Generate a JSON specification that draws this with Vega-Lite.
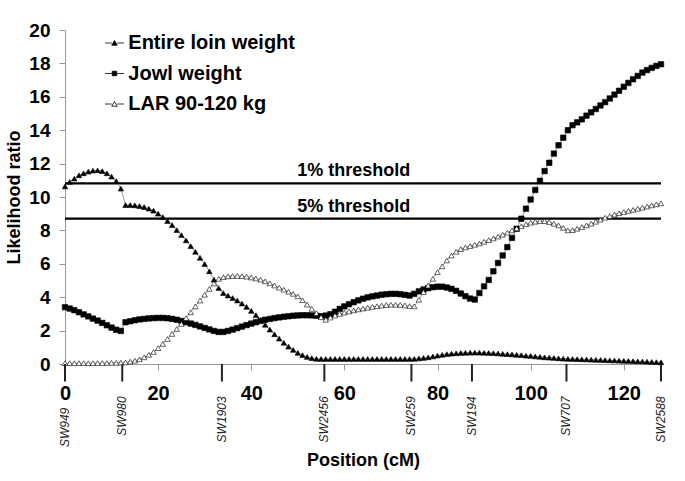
{
  "$schema": "https://vega.github.io/schema/vega-lite/v6.json",
  "width": 596,
  "height": 334,
  "autosize": {"type": "none"},
  "padding": {"left": 65, "top": 30, "right": 24, "bottom": 117},
  "background": "white",
  "datasets": {
    "thresholds": [
      {"label": "1% threshold", "LR": 10.82},
      {"label": "5% threshold", "LR": 8.7}
    ],
    "markers": [
      {"marker": "SW949", "cM": 0},
      {"marker": "SW980", "cM": 12.3},
      {"marker": "SW1903", "cM": 33.7},
      {"marker": "SW2456", "cM": 55.7},
      {"marker": "SW259", "cM": 74.4},
      {"marker": "SW194", "cM": 87.4},
      {"marker": "SW707", "cM": 107.7},
      {"marker": "SW2588", "cM": 128}
    ],
    "curves": [
      {"cM": 0, "Entire loin weight": 10.63, "Jowl weight": 3.4, "LAR 90-120 kg": 0.05},
      {"cM": 1, "Entire loin weight": 10.9, "Jowl weight": 3.32, "LAR 90-120 kg": 0.05},
      {"cM": 2, "Entire loin weight": 11.1, "Jowl weight": 3.22, "LAR 90-120 kg": 0.05},
      {"cM": 3, "Entire loin weight": 11.3, "Jowl weight": 3.1, "LAR 90-120 kg": 0.05},
      {"cM": 4, "Entire loin weight": 11.42, "Jowl weight": 2.97, "LAR 90-120 kg": 0.05},
      {"cM": 5, "Entire loin weight": 11.52, "Jowl weight": 2.85, "LAR 90-120 kg": 0.05},
      {"cM": 6, "Entire loin weight": 11.58, "Jowl weight": 2.72, "LAR 90-120 kg": 0.05},
      {"cM": 7, "Entire loin weight": 11.6, "Jowl weight": 2.6, "LAR 90-120 kg": 0.06},
      {"cM": 8, "Entire loin weight": 11.55, "Jowl weight": 2.46, "LAR 90-120 kg": 0.06},
      {"cM": 9, "Entire loin weight": 11.42, "Jowl weight": 2.32, "LAR 90-120 kg": 0.06},
      {"cM": 10, "Entire loin weight": 11.22, "Jowl weight": 2.18, "LAR 90-120 kg": 0.07},
      {"cM": 11, "Entire loin weight": 10.95, "Jowl weight": 2.05, "LAR 90-120 kg": 0.07},
      {"cM": 12, "Entire loin weight": 10.5, "Jowl weight": 1.98, "LAR 90-120 kg": 0.08},
      {"cM": 13, "Entire loin weight": 9.52, "Jowl weight": 2.5, "LAR 90-120 kg": 0.1},
      {"cM": 14, "Entire loin weight": 9.52, "Jowl weight": 2.56, "LAR 90-120 kg": 0.14},
      {"cM": 15, "Entire loin weight": 9.5, "Jowl weight": 2.62, "LAR 90-120 kg": 0.2},
      {"cM": 16, "Entire loin weight": 9.46, "Jowl weight": 2.67, "LAR 90-120 kg": 0.28},
      {"cM": 17, "Entire loin weight": 9.4, "Jowl weight": 2.7, "LAR 90-120 kg": 0.4},
      {"cM": 18, "Entire loin weight": 9.3, "Jowl weight": 2.73, "LAR 90-120 kg": 0.55},
      {"cM": 19, "Entire loin weight": 9.18, "Jowl weight": 2.75, "LAR 90-120 kg": 0.72},
      {"cM": 20, "Entire loin weight": 9.0, "Jowl weight": 2.76, "LAR 90-120 kg": 0.95},
      {"cM": 21, "Entire loin weight": 8.8, "Jowl weight": 2.76, "LAR 90-120 kg": 1.2},
      {"cM": 22, "Entire loin weight": 8.56, "Jowl weight": 2.74, "LAR 90-120 kg": 1.5},
      {"cM": 23, "Entire loin weight": 8.32, "Jowl weight": 2.7, "LAR 90-120 kg": 1.8},
      {"cM": 24, "Entire loin weight": 8.02, "Jowl weight": 2.65, "LAR 90-120 kg": 2.1},
      {"cM": 25, "Entire loin weight": 7.72, "Jowl weight": 2.58, "LAR 90-120 kg": 2.4},
      {"cM": 26, "Entire loin weight": 7.4, "Jowl weight": 2.5, "LAR 90-120 kg": 2.75},
      {"cM": 27, "Entire loin weight": 7.06, "Jowl weight": 2.42, "LAR 90-120 kg": 3.1},
      {"cM": 28, "Entire loin weight": 6.72, "Jowl weight": 2.34, "LAR 90-120 kg": 3.45},
      {"cM": 29, "Entire loin weight": 6.36, "Jowl weight": 2.25, "LAR 90-120 kg": 3.8},
      {"cM": 30, "Entire loin weight": 5.98, "Jowl weight": 2.16, "LAR 90-120 kg": 4.15},
      {"cM": 31, "Entire loin weight": 5.55, "Jowl weight": 2.07, "LAR 90-120 kg": 4.5},
      {"cM": 32, "Entire loin weight": 5.05, "Jowl weight": 1.98, "LAR 90-120 kg": 4.82},
      {"cM": 33, "Entire loin weight": 4.55, "Jowl weight": 1.92, "LAR 90-120 kg": 5.1},
      {"cM": 34, "Entire loin weight": 4.25, "Jowl weight": 1.92, "LAR 90-120 kg": 5.2},
      {"cM": 35, "Entire loin weight": 4.1, "Jowl weight": 1.98, "LAR 90-120 kg": 5.25},
      {"cM": 36, "Entire loin weight": 3.95, "Jowl weight": 2.06, "LAR 90-120 kg": 5.27},
      {"cM": 37, "Entire loin weight": 3.8, "Jowl weight": 2.15, "LAR 90-120 kg": 5.27},
      {"cM": 38, "Entire loin weight": 3.62, "Jowl weight": 2.24, "LAR 90-120 kg": 5.26},
      {"cM": 39, "Entire loin weight": 3.42, "Jowl weight": 2.33, "LAR 90-120 kg": 5.23},
      {"cM": 40, "Entire loin weight": 3.18, "Jowl weight": 2.42, "LAR 90-120 kg": 5.18},
      {"cM": 41, "Entire loin weight": 2.92, "Jowl weight": 2.5, "LAR 90-120 kg": 5.12},
      {"cM": 42, "Entire loin weight": 2.64, "Jowl weight": 2.58, "LAR 90-120 kg": 5.05},
      {"cM": 43, "Entire loin weight": 2.35, "Jowl weight": 2.65, "LAR 90-120 kg": 4.95},
      {"cM": 44, "Entire loin weight": 2.06, "Jowl weight": 2.7, "LAR 90-120 kg": 4.83},
      {"cM": 45, "Entire loin weight": 1.78, "Jowl weight": 2.75, "LAR 90-120 kg": 4.7},
      {"cM": 46, "Entire loin weight": 1.52, "Jowl weight": 2.79, "LAR 90-120 kg": 4.57},
      {"cM": 47, "Entire loin weight": 1.27, "Jowl weight": 2.83, "LAR 90-120 kg": 4.45},
      {"cM": 48, "Entire loin weight": 1.04, "Jowl weight": 2.86, "LAR 90-120 kg": 4.33},
      {"cM": 49, "Entire loin weight": 0.84, "Jowl weight": 2.89, "LAR 90-120 kg": 4.2},
      {"cM": 50, "Entire loin weight": 0.67, "Jowl weight": 2.91, "LAR 90-120 kg": 4.05},
      {"cM": 51, "Entire loin weight": 0.53, "Jowl weight": 2.92, "LAR 90-120 kg": 3.82},
      {"cM": 52, "Entire loin weight": 0.42, "Jowl weight": 2.92, "LAR 90-120 kg": 3.56},
      {"cM": 53, "Entire loin weight": 0.35, "Jowl weight": 2.91, "LAR 90-120 kg": 3.3},
      {"cM": 54, "Entire loin weight": 0.31, "Jowl weight": 2.89, "LAR 90-120 kg": 3.05},
      {"cM": 55, "Entire loin weight": 0.3, "Jowl weight": 2.86, "LAR 90-120 kg": 2.8},
      {"cM": 56, "Entire loin weight": 0.3, "Jowl weight": 2.9, "LAR 90-120 kg": 2.65},
      {"cM": 57, "Entire loin weight": 0.3, "Jowl weight": 2.98, "LAR 90-120 kg": 2.78},
      {"cM": 58, "Entire loin weight": 0.3, "Jowl weight": 3.13, "LAR 90-120 kg": 2.9},
      {"cM": 59, "Entire loin weight": 0.3, "Jowl weight": 3.3, "LAR 90-120 kg": 3.0},
      {"cM": 60, "Entire loin weight": 0.3, "Jowl weight": 3.45, "LAR 90-120 kg": 3.08},
      {"cM": 61, "Entire loin weight": 0.3, "Jowl weight": 3.58, "LAR 90-120 kg": 3.15},
      {"cM": 62, "Entire loin weight": 0.3, "Jowl weight": 3.7, "LAR 90-120 kg": 3.21},
      {"cM": 63, "Entire loin weight": 0.3, "Jowl weight": 3.81, "LAR 90-120 kg": 3.27},
      {"cM": 64, "Entire loin weight": 0.3, "Jowl weight": 3.91, "LAR 90-120 kg": 3.32},
      {"cM": 65, "Entire loin weight": 0.3, "Jowl weight": 3.99, "LAR 90-120 kg": 3.37},
      {"cM": 66, "Entire loin weight": 0.3, "Jowl weight": 4.05, "LAR 90-120 kg": 3.42},
      {"cM": 67, "Entire loin weight": 0.3, "Jowl weight": 4.1, "LAR 90-120 kg": 3.46},
      {"cM": 68, "Entire loin weight": 0.3, "Jowl weight": 4.15, "LAR 90-120 kg": 3.5},
      {"cM": 69, "Entire loin weight": 0.3, "Jowl weight": 4.18, "LAR 90-120 kg": 3.53},
      {"cM": 70, "Entire loin weight": 0.3, "Jowl weight": 4.2, "LAR 90-120 kg": 3.55},
      {"cM": 71, "Entire loin weight": 0.3, "Jowl weight": 4.2, "LAR 90-120 kg": 3.55},
      {"cM": 72, "Entire loin weight": 0.3, "Jowl weight": 4.18, "LAR 90-120 kg": 3.54},
      {"cM": 73, "Entire loin weight": 0.3, "Jowl weight": 4.14, "LAR 90-120 kg": 3.51},
      {"cM": 74, "Entire loin weight": 0.3, "Jowl weight": 4.1, "LAR 90-120 kg": 3.47},
      {"cM": 75, "Entire loin weight": 0.31, "Jowl weight": 4.2, "LAR 90-120 kg": 3.45},
      {"cM": 76, "Entire loin weight": 0.33, "Jowl weight": 4.35, "LAR 90-120 kg": 3.85},
      {"cM": 77, "Entire loin weight": 0.36, "Jowl weight": 4.46, "LAR 90-120 kg": 4.3},
      {"cM": 78, "Entire loin weight": 0.4, "Jowl weight": 4.54, "LAR 90-120 kg": 4.7},
      {"cM": 79, "Entire loin weight": 0.45, "Jowl weight": 4.6, "LAR 90-120 kg": 5.1},
      {"cM": 80, "Entire loin weight": 0.5, "Jowl weight": 4.63, "LAR 90-120 kg": 5.5},
      {"cM": 81, "Entire loin weight": 0.55, "Jowl weight": 4.63, "LAR 90-120 kg": 5.85},
      {"cM": 82, "Entire loin weight": 0.59, "Jowl weight": 4.58, "LAR 90-120 kg": 6.2},
      {"cM": 83, "Entire loin weight": 0.62, "Jowl weight": 4.5, "LAR 90-120 kg": 6.5},
      {"cM": 84, "Entire loin weight": 0.64, "Jowl weight": 4.38, "LAR 90-120 kg": 6.72},
      {"cM": 85, "Entire loin weight": 0.66, "Jowl weight": 4.22, "LAR 90-120 kg": 6.88},
      {"cM": 86, "Entire loin weight": 0.67, "Jowl weight": 4.06, "LAR 90-120 kg": 6.98},
      {"cM": 87, "Entire loin weight": 0.68, "Jowl weight": 3.92, "LAR 90-120 kg": 7.06},
      {"cM": 88, "Entire loin weight": 0.68, "Jowl weight": 3.86, "LAR 90-120 kg": 7.14},
      {"cM": 89, "Entire loin weight": 0.68, "Jowl weight": 4.25, "LAR 90-120 kg": 7.22},
      {"cM": 90, "Entire loin weight": 0.67, "Jowl weight": 4.65, "LAR 90-120 kg": 7.32},
      {"cM": 91, "Entire loin weight": 0.66, "Jowl weight": 5.03, "LAR 90-120 kg": 7.42},
      {"cM": 92, "Entire loin weight": 0.65, "Jowl weight": 5.55, "LAR 90-120 kg": 7.52},
      {"cM": 93, "Entire loin weight": 0.63, "Jowl weight": 6.05, "LAR 90-120 kg": 7.63},
      {"cM": 94, "Entire loin weight": 0.61, "Jowl weight": 6.5, "LAR 90-120 kg": 7.74},
      {"cM": 95, "Entire loin weight": 0.59, "Jowl weight": 7.0, "LAR 90-120 kg": 7.87},
      {"cM": 96, "Entire loin weight": 0.57, "Jowl weight": 7.55, "LAR 90-120 kg": 8.0},
      {"cM": 97, "Entire loin weight": 0.55, "Jowl weight": 8.1, "LAR 90-120 kg": 8.12},
      {"cM": 98, "Entire loin weight": 0.53, "Jowl weight": 8.7, "LAR 90-120 kg": 8.25},
      {"cM": 99, "Entire loin weight": 0.5, "Jowl weight": 9.3, "LAR 90-120 kg": 8.37},
      {"cM": 100, "Entire loin weight": 0.48, "Jowl weight": 9.85, "LAR 90-120 kg": 8.46},
      {"cM": 101, "Entire loin weight": 0.45, "Jowl weight": 10.42, "LAR 90-120 kg": 8.52},
      {"cM": 102, "Entire loin weight": 0.43, "Jowl weight": 10.97, "LAR 90-120 kg": 8.56},
      {"cM": 103, "Entire loin weight": 0.4, "Jowl weight": 11.55, "LAR 90-120 kg": 8.56},
      {"cM": 104, "Entire loin weight": 0.38, "Jowl weight": 12.05, "LAR 90-120 kg": 8.5},
      {"cM": 105, "Entire loin weight": 0.36, "Jowl weight": 12.6, "LAR 90-120 kg": 8.4},
      {"cM": 106, "Entire loin weight": 0.34, "Jowl weight": 13.1, "LAR 90-120 kg": 8.3},
      {"cM": 107, "Entire loin weight": 0.32, "Jowl weight": 13.55, "LAR 90-120 kg": 8.15},
      {"cM": 108, "Entire loin weight": 0.31, "Jowl weight": 14.0, "LAR 90-120 kg": 8.0},
      {"cM": 109, "Entire loin weight": 0.3, "Jowl weight": 14.3, "LAR 90-120 kg": 8.02},
      {"cM": 110, "Entire loin weight": 0.29, "Jowl weight": 14.47, "LAR 90-120 kg": 8.1},
      {"cM": 111, "Entire loin weight": 0.28, "Jowl weight": 14.65, "LAR 90-120 kg": 8.2},
      {"cM": 112, "Entire loin weight": 0.27, "Jowl weight": 14.87, "LAR 90-120 kg": 8.3},
      {"cM": 113, "Entire loin weight": 0.26, "Jowl weight": 15.07, "LAR 90-120 kg": 8.4},
      {"cM": 114, "Entire loin weight": 0.25, "Jowl weight": 15.27, "LAR 90-120 kg": 8.52},
      {"cM": 115, "Entire loin weight": 0.24, "Jowl weight": 15.48, "LAR 90-120 kg": 8.64},
      {"cM": 116, "Entire loin weight": 0.23, "Jowl weight": 15.68, "LAR 90-120 kg": 8.76},
      {"cM": 117, "Entire loin weight": 0.22, "Jowl weight": 15.9, "LAR 90-120 kg": 8.86},
      {"cM": 118, "Entire loin weight": 0.21, "Jowl weight": 16.13, "LAR 90-120 kg": 8.95},
      {"cM": 119, "Entire loin weight": 0.2, "Jowl weight": 16.36, "LAR 90-120 kg": 9.03},
      {"cM": 120, "Entire loin weight": 0.19, "Jowl weight": 16.6, "LAR 90-120 kg": 9.1},
      {"cM": 121, "Entire loin weight": 0.18, "Jowl weight": 16.83, "LAR 90-120 kg": 9.17},
      {"cM": 122, "Entire loin weight": 0.17, "Jowl weight": 17.05, "LAR 90-120 kg": 9.23},
      {"cM": 123, "Entire loin weight": 0.16, "Jowl weight": 17.25, "LAR 90-120 kg": 9.3},
      {"cM": 124, "Entire loin weight": 0.15, "Jowl weight": 17.45, "LAR 90-120 kg": 9.36},
      {"cM": 125, "Entire loin weight": 0.14, "Jowl weight": 17.6, "LAR 90-120 kg": 9.43},
      {"cM": 126, "Entire loin weight": 0.12, "Jowl weight": 17.73, "LAR 90-120 kg": 9.5},
      {"cM": 127, "Entire loin weight": 0.11, "Jowl weight": 17.85, "LAR 90-120 kg": 9.56},
      {"cM": 128, "Entire loin weight": 0.1, "Jowl weight": 17.95, "LAR 90-120 kg": 9.62}
    ]
  },
  "resolve": {"scale": {"shape": "independent", "fill": "independent"}},
  "layer": [
    {
      "data": {"name": "thresholds"},
      "mark": {"type": "rule", "color": "black", "strokeWidth": 2.2},
      "encoding": {
        "y": {"field": "LR", "type": "quantitative", "title": "Likelihood ratio", "scale": {"domain": [0, 20], "nice": false}}
      }
    },
    {
      "data": {"name": "thresholds"},
      "mark": {"type": "text", "fontSize": 18, "fontWeight": "bold", "baseline": "alphabetic", "dy": -7, "color": "black"},
      "encoding": {
        "x": {"datum": 62, "type": "quantitative"},
        "y": {"field": "LR", "type": "quantitative", "title": "Likelihood ratio"},
        "text": {"field": "label"}
      }
    },
    {
      "data": {"name": "curves"},
      "transform": [{"fold": ["Entire loin weight", "Jowl weight", "LAR 90-120 kg"], "as": ["trait", "LR"]}],
      "mark": {"type": "line", "stroke": "#808080", "strokeWidth": 0.8},
      "encoding": {
        "x": {"field": "cM", "type": "quantitative", "title": "Position (cM)", "scale": {"domain": [0, 128], "nice": false, "zero": false}, "axis": {"values": [0, 20, 40, 60, 80, 100, 120]}},
        "y": {"field": "LR", "type": "quantitative", "title": "Likelihood ratio"},
        "detail": {"field": "trait"}
      }
    },
    {
      "data": {"name": "curves"},
      "transform": [{"fold": ["Entire loin weight", "Jowl weight", "LAR 90-120 kg"], "as": ["trait", "LR"]}],
      "mark": {"type": "point", "filled": true, "opacity": 1, "stroke": "black", "strokeWidth": 0.6, "size": 30},
      "encoding": {
        "x": {"field": "cM", "type": "quantitative", "title": "Position (cM)"},
        "y": {"field": "LR", "type": "quantitative", "title": "Likelihood ratio"},
        "fill": {"field": "trait", "type": "nominal", "scale": {"range": ["black", "black", "white"]}, "legend": null},
        "shape": {"field": "trait", "type": "nominal", "scale": {"range": ["triangle-up", "square", "triangle-up"]}, "legend": null}
      }
    },
    {
      "data": {"name": "curves"},
      "transform": [{"filter": "false"}, {"fold": ["Entire loin weight", "Jowl weight", "LAR 90-120 kg"], "as": ["trait", "LR"]}],
      "mark": {"type": "point", "filled": true, "opacity": 1, "stroke": "black", "strokeWidth": 0.8, "size": 100},
      "encoding": {
        "x": {"field": "cM", "type": "quantitative", "title": "Position (cM)"},
        "y": {"field": "LR", "type": "quantitative", "title": "Likelihood ratio"},
        "fill": {
          "field": "trait", "type": "nominal", "title": null,
          "scale": {"domain": ["Entire loin weight", "Jowl weight", "LAR 90-120 kg"], "range": ["black", "black", "white"]}
        },
        "shape": {
          "field": "trait", "type": "nominal", "title": null,
          "scale": {
            "domain": ["Entire loin weight", "Jowl weight", "LAR 90-120 kg"],
            "range": [
              "M-1.9,0H-0.55M0.55,0H1.9M0,-0.5L0.55,0.45L-0.55,0.45Z",
              "M-1.9,0H-0.5M0.5,0H1.9M-0.45,-0.45H0.45V0.45H-0.45Z",
              "M-1.9,0H-0.55M0.55,0H1.9M0,-0.5L0.55,0.45L-0.55,0.45Z"
            ]
          }
        }
      }
    },
    {
      "data": {"name": "markers"},
      "mark": {"type": "rule", "color": "#222222", "strokeWidth": 2},
      "encoding": {
        "x": {"field": "cM", "type": "quantitative", "title": "Position (cM)"},
        "y": {"datum": 0, "type": "quantitative"},
        "y2": {"datum": -1.05}
      }
    },
    {
      "data": {"name": "markers"},
      "transform": [{"filter": "datum.marker !== 'SW949'"}],
      "mark": {"type": "text", "angle": 270, "align": "right", "baseline": "middle", "fontSize": 12, "fontStyle": "italic", "color": "#222222"},
      "encoding": {
        "x": {"field": "cM", "type": "quantitative", "title": "Position (cM)"},
        "y": {"datum": -1.94, "type": "quantitative"},
        "text": {"field": "marker"}
      }
    },
    {
      "data": {"name": "markers"},
      "transform": [{"filter": "datum.marker === 'SW949'"}],
      "mark": {"type": "text", "angle": 270, "align": "right", "baseline": "middle", "fontSize": 12, "fontStyle": "italic", "color": "#222222"},
      "encoding": {
        "x": {"field": "cM", "type": "quantitative", "title": "Position (cM)"},
        "y": {"datum": -2.62, "type": "quantitative"},
        "text": {"field": "marker"}
      }
    }
  ],
  "config": {
    "font": "Liberation Sans",
    "view": {"stroke": null},
    "legend": {
      "orient": "none",
      "legendX": 39.5,
      "legendY": 3,
      "padding": 0,
      "symbolSize": 100,
      "symbolStrokeWidth": 0.8,
      "labelFontSize": 20,
      "labelFontWeight": "bold",
      "labelColor": "black",
      "labelOffset": 3.8,
      "rowPadding": 10.5,
      "labelLimit": 400
    },
    "axis": {"labelOverlap": false},
    "axisX": {
      "grid": false,
      "domainColor": "#999999",
      "tickColor": "#999999",
      "tickSize": 6,
      "labelFontSize": 20,
      "labelFontWeight": "bold",
      "labelColor": "black",
      "labelPadding": 13,
      "labelFlush": false,
      "labelOverlap": false,
      "titleFontSize": 18,
      "titleFontWeight": "bold",
      "titleColor": "black",
      "titlePadding": 48
    },
    "axisY": {
      "grid": false,
      "tickCount": 10,
      "domainColor": "#999999",
      "tickColor": "#999999",
      "tickSize": 6,
      "labelFontSize": 19,
      "labelFontWeight": "bold",
      "labelColor": "black",
      "labelPadding": 9,
      "labelOverlap": false,
      "titleFontSize": 18,
      "titleFontWeight": "bold",
      "titleColor": "black",
      "titlePadding": 5
    }
  }
}
